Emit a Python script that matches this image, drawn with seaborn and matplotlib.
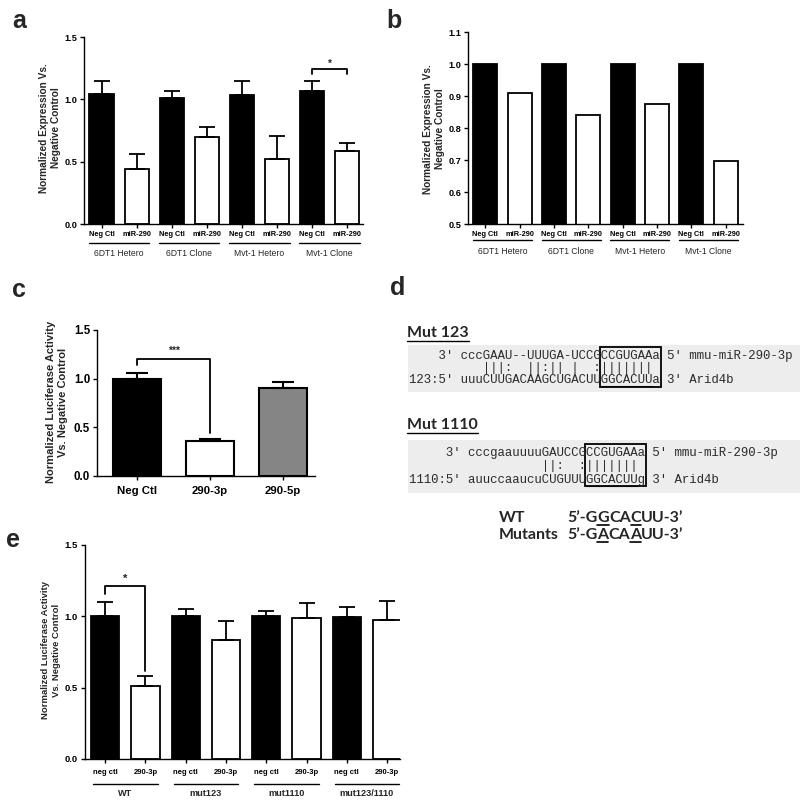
import numpy as np
import pandas as pd
import matplotlib
matplotlib.use("Agg")
import matplotlib.pyplot as plt
import seaborn as sns
from matplotlib.lines import Line2D
from matplotlib.patches import Rectangle

# ---- values ----
# a: expression after miR-290, bar height and upper error
a_groups = ["6DT1 Hetero", "6DT1 Clone", "Mvt-1 Hetero", "Mvt-1 Clone"]
a_treat = ["Neg Ctl", "miR-290"]
a_mean = [1.04, 0.44, 1.01, 0.70, 1.035, 0.525, 1.065, 0.585]
a_err = [0.11, 0.12, 0.06, 0.08, 0.11, 0.18, 0.085, 0.065]

# b: same groups, single measurement
b_mean = [1.0, 0.908, 1.0, 0.841, 1.0, 0.874, 1.0, 0.698]

# c: luciferase
c_labels = ["Neg Ctl", "290-3p", "290-5p"]
c_mean = [1.0, 0.355, 0.905]
c_err = [0.055, 0.03, 0.065]

# e: luciferase with seed mutants
e_groups = ["WT", "mut123", "mut1110", "mut123/1110"]
e_treat = ["neg ctl", "290-3p"]
e_mean = [1.0, 0.515, 1.0, 0.832, 1.0, 0.988, 0.998, 0.974]
e_err = [0.10, 0.07, 0.05, 0.135, 0.04, 0.105, 0.07, 0.135]

# d: alignments (miRNA line, pairing line, target line, seed start column)
mut123 = ("    3' cccGAAU--UUUGA-UCCGCCGUGAAa 5' mmu-miR-290-3p",
          " " * 10 + "|||:" + "  " + "||:||" + " " + "|" + "  " + ":" + "|||||||",
          "123:5' uuuCUUGACAAGCUGACUUGGCACUUa 3' Arid4b", 26)
mut1110 = ("     3' cccgaauuuuGAUCCGCCGUGAAa 5' mmu-miR-290-3p",
           " " * 18 + "||:" + "  " + ":" + "|||||||",
           "1110:5' auuccaaucuCUGUUUGGCACUUg 3' Arid4b", 24)
wt_parts = [("5’-G", False), ("G", True), ("CA", False), ("C", True), ("UU-3’", False)]
mut_parts = [("5’-G", False), ("A", True), ("CA", False), ("A", True), ("UU-3’", False)]

W, H = 800, 807

sns.set_theme(style="ticks")
plt.rcParams["font.family"] = ["Liberation Sans", "DejaVu Sans"]
plt.rcParams["axes.linewidth"] = 1.0

fig = plt.figure(figsize=(W / 100, H / 100), dpi=100)
renderer = fig.canvas.get_renderer()


def px_axes(left, top, right, bottom):
    return fig.add_axes([left / W, 1 - bottom / H, (right - left) / W, (bottom - top) / H])


def ftext(x, y, s, **kw):
    return fig.text(x / W, 1 - y / H, s, **kw)


def fline(x0, x1, y0, y1, **kw):
    fig.add_artist(Line2D([x0 / W, x1 / W], [1 - y0 / H, 1 - y1 / H], **kw))


def style_axis(ax, ylim, yticks, fs):
    ax.set_ylim(*ylim)
    ax.set_yticks(yticks)
    ax.set_yticklabels([f"{t:.1f}" for t in yticks], fontsize=fs, fontweight="bold")
    sns.despine(ax=ax)
    ax.tick_params(direction="out", length=3, width=1.0, pad=2, colors="black")
    ax.set_xlabel("")
    ax.set_ylabel("")
    for s in ax.spines.values():
        s.set_color("black")


def pair_bars(ax, groups, treat, values, width, lw):
    keys = [f"{g}:{t}" for g in groups for t in treat]
    df = pd.DataFrame({"key": keys, "treat": treat * len(groups), "value": values})
    sns.barplot(data=df, x="key", y="value", hue="treat", hue_order=treat, order=keys,
                palette=["black", "white"], dodge=False, width=width, saturation=1,
                edgecolor="black", linewidth=lw, errorbar=None, legend=False, ax=ax)


def add_err(ax, means, errs, cap, lw=1.3):
    xs = sorted(p.get_x() + p.get_width() / 2 for p in ax.patches)
    ax.errorbar(xs, means, yerr=[np.zeros(len(errs)), errs], fmt="none", ecolor="black",
                elinewidth=lw, capsize=cap, capthick=lw, zorder=3, clip_on=False)
    return xs


def bracket(ax, x0, x1, y, y0, y1, label, fs, dy):
    ax.plot([x0, x0, x1, x1], [y0, y, y, y1], color="black", lw=1.3, clip_on=False)
    ax.text((x0 + x1) / 2, y + dy, label, ha="center", va="bottom", fontsize=fs,
            fontweight="bold")


def group_labels(ax, groups, dy_line, dy_text, fs, weight, half):
    ax_h = ax.get_position().height * H
    tr = ax.get_xaxis_transform()
    for k, g in enumerate(groups):
        c = 2 * k + 0.5
        ax.plot([c - half, c + half], [-dy_line / ax_h] * 2, transform=tr, color="black",
                lw=1.0, clip_on=False)
        ax.text(c, -dy_text / ax_h, g, transform=tr, ha="center", va="center",
                fontsize=fs, fontweight=weight)


# ---------------- a ----------------
ax_a = px_axes(84, 37, 363, 224)
pair_bars(ax_a, a_groups, a_treat, a_mean, 0.69, 1.3)
xs_a = add_err(ax_a, a_mean, a_err, 5.5)
style_axis(ax_a, (0, 1.5), [0, 0.5, 1.0, 1.5], 6.6)
ax_a.set_xlim(-0.5, 7.45)
ax_a.set_xticks(range(8))
ax_a.set_xticklabels(a_treat * 4, fontsize=5.3, fontweight="bold")
group_labels(ax_a, a_groups, 19, 29, 6.2, "normal", 0.86)
bracket(ax_a, xs_a[6], xs_a[7], 1.243, 1.2, 1.2, "*", 7, 0.0)
ftext(50, 128, "Normalized Expression Vs.\nNegative Control", rotation=90, ha="center",
      va="center", fontsize=7.3, fontweight="bold", multialignment="center")

# ---------------- b ----------------
ax_b = px_axes(468, 32, 743, 224)
pair_bars(ax_b, a_groups, a_treat, b_mean, 0.7, 1.3)
style_axis(ax_b, (0.5, 1.1), [0.5, 0.6, 0.7, 0.8, 0.9, 1.0, 1.1], 6.6)
ax_b.set_xlim(-0.5, 7.5)
ax_b.set_xticks(range(8))
ax_b.set_xticklabels(a_treat * 4, fontsize=5.3, fontweight="bold")
group_labels(ax_b, a_groups, 16, 27, 6.2, "normal", 0.86)
ftext(434, 129, "Normalized Expression Vs.\nNegative Control", rotation=90, ha="center",
      va="center", fontsize=7.3, fontweight="bold", multialignment="center")

# ---------------- c ----------------
ax_c = px_axes(97, 330, 315, 476)
c_df = pd.DataFrame({"label": c_labels, "value": c_mean})
sns.barplot(data=c_df, x="label", y="value", hue="label", order=c_labels, hue_order=c_labels,
            palette=["black", "white", "#858585"], width=0.66, saturation=1,
            edgecolor="black", linewidth=1.5, errorbar=None, legend=False, ax=ax_c)
xs_c = add_err(ax_c, c_mean, c_err, 8.0, 1.5)
style_axis(ax_c, (0, 1.5), [0, 0.5, 1.0, 1.5], 8.3)
ax_c.set_xlim(-0.55, 2.44)
ax_c.set_xticks(range(3))
ax_c.set_xticklabels(c_labels, fontsize=8.2, fontweight="bold")
ax_c.tick_params(axis="x", pad=4)
bracket(ax_c, xs_c[0], xs_c[1], 1.2, 1.14, 0.44, "***", 7.5, 0.03)
ftext(57, 402, "Normalized Luciferase Activity\nVs. Negative Control", rotation=90,
      ha="center", va="center", fontsize=8.0, fontweight="bold", multialignment="center")

# ---------------- e ----------------
ax_e = px_axes(85, 545, 400, 759)
pair_bars(ax_e, e_groups, e_treat, e_mean, 0.7, 1.3)
xs_e = add_err(ax_e, e_mean, e_err, 5.8)
style_axis(ax_e, (0, 1.5), [0, 0.5, 1.0, 1.5], 6.8)
ax_e.set_xlim(-0.5, 7.32)
ax_e.set_xticks(range(8))
ax_e.set_xticklabels(e_treat * 4, fontsize=5.5, fontweight="bold")
ax_e.tick_params(axis="x", pad=4)
group_labels(ax_e, e_groups, 25, 34, 6.6, "bold", 0.8)
bracket(ax_e, xs_e[0], xs_e[1], 1.21, 1.16, 0.62, "*", 8, 0.02)
ftext(51, 650, "Normalized Luciferase Activity\nVs. Negative Control", rotation=90,
      ha="center", va="center", fontsize=6.8, fontweight="bold", multialignment="center")

# ---------------- d ----------------
head_font = ["Lato", "DejaVu Sans"]


def alignment(block, head_y, bg_top, bg_bot, rows, box_top, box_bot, name):
    mirna, pairs, target, seed = block
    h = ftext(407, head_y, name, fontsize=11.5, fontweight="bold", family=head_font,
              va="center")
    hw = h.get_window_extent(renderer).width
    fline(407, 407 + hw, head_y + 8, head_y + 8, color="black", lw=1.0)
    fig.add_artist(Rectangle((408 / W, 1 - bg_bot / H), 392 / W, (bg_bot - bg_top) / H,
                             transform=fig.transFigure, facecolor="#ededed",
                             edgecolor="none", zorder=0))
    for s, y in zip((mirna, pairs, target), rows):
        ftext(409, y, s, fontsize=8.9, family="Liberation Mono", va="center",
              color="#2a2a2a")
    tw = ftext(0, -50, target, fontsize=8.9, family="Liberation Mono")
    cw = tw.get_window_extent(renderer).width / len(target)
    tw.remove()
    x0 = 409 + seed * cw
    fig.add_artist(Rectangle(((x0 - 1) / W, 1 - box_bot / H), (8 * cw + 2) / W,
                             (box_bot - box_top) / H, transform=fig.transFigure,
                             facecolor="none", edgecolor="black", lw=1.3, zorder=3))
    fline(x0, x0 + 7 * cw, rows[2] + 6, rows[2] + 6, color="#2a2a2a", lw=0.8)


alignment(mut123, 333, 345, 392, (356, 368, 380), 347, 387, "Mut 123")
alignment(mut1110, 425, 440, 493, (453, 466, 480), 444, 486, "Mut 1110")


def seq_line(x, y, parts):
    for s, under in parts:
        t = ftext(x, y, s, fontsize=11.5, fontweight="bold", family=head_font,
                  va="baseline")
        w = t.get_window_extent(renderer).width
        if under:
            fline(x, x + w, y + 2.5, y + 2.5, color="black", lw=1.2)
        x += w


ftext(499, 522, "WT", fontsize=11.5, fontweight="bold", family=head_font, va="baseline")
ftext(499, 539, "Mutants", fontsize=11.5, fontweight="bold", family=head_font,
      va="baseline")
seq_line(567, 522, wt_parts)
seq_line(567, 539, mut_parts)

# panel letters
for letter, x, y in [("a", 12, 28), ("b", 386, 28), ("c", 12, 297), ("d", 390, 295),
                     ("e", 6, 547)]:
    ftext(x, y, letter, fontsize=18, fontweight="bold", va="baseline")

fig.savefig("out.png", dpi=100)
